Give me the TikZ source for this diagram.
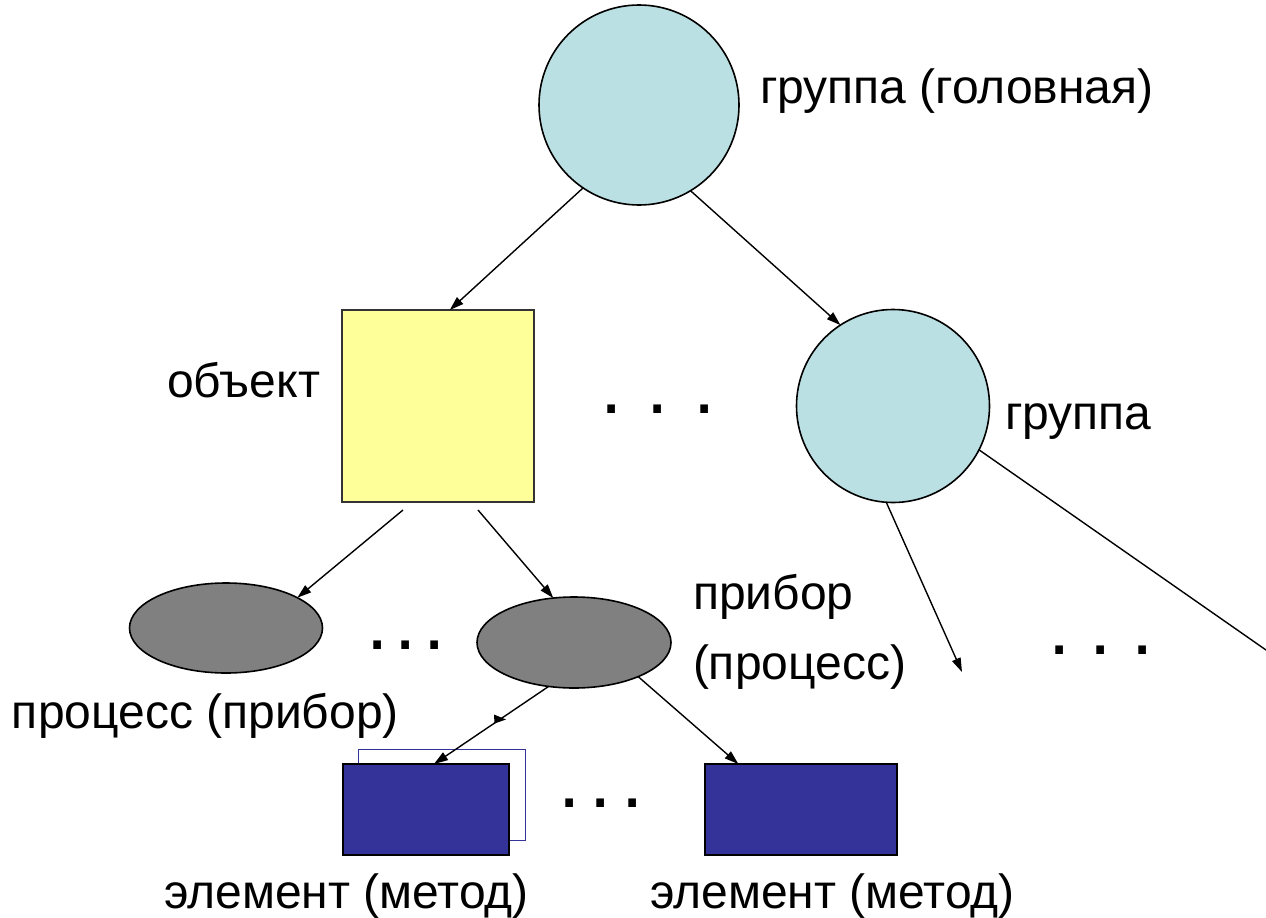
\documentclass[tikz,border=0pt]{standalone}
\usepackage{fontspec}
\setmainfont{Liberation Sans}
\usetikzlibrary{arrows.meta,shapes.geometric,calc}
\definecolor{cyanfill}{RGB}{187,224,227}
\definecolor{yelfill}{RGB}{255,255,153}
\definecolor{grayfill}{RGB}{128,128,128}
\definecolor{navyfill}{RGB}{51,51,153}
\newcommand{\dts}[2]{{\fontsize{#1}{#1}\selectfont .\hspace{#2}.\hspace{#2}.}}
\begin{document}
\begin{tikzpicture}[x=1pt,y=-1pt,
  every node/.style={inner sep=0pt,outer sep=0pt},
  grpnode/.style={circle,draw=black,line width=1.6pt,fill=cyanfill},
  objnode/.style={rectangle,draw=black!80,line width=1.6pt,fill=yelfill},
  devnode/.style={ellipse,draw=black,line width=1.6pt,fill=grayfill},
  elnode/.style={rectangle,draw=black,line width=1.6pt,fill=navyfill},
  lbl/.style={font=\fontsize{48}{56}\selectfont},
  dotlbl/.style={anchor=base},
  conn/.style={line width=1.4pt,-{Triangle[length=14pt,width=9pt]}},
  plainconn/.style={line width=1.4pt}]
\useasboundingbox (0,0) rectangle (1266,918);
% nodes
\node[grpnode,minimum size=200pt] (g1) at (639,105) {};
\node[grpnode,minimum size=193pt] (g2) at (893,406) {};
\node[objnode,minimum width=192pt,minimum height=192pt] (obj) at (438,406) {};
\node[devnode,minimum width=193pt,minimum height=90pt] (e1) at (226,628) {};
\node[devnode,minimum width=194pt,minimum height=91pt] (e2) at (574,642.5) {};
\draw[navyfill,line width=1pt] (358,749) rectangle (525,840);
\node[elnode,minimum width=166pt,minimum height=91pt] (b1) at (426,809.5) {};
\node[elnode,minimum width=192pt,minimum height=91pt] (b2) at (801,809.5) {};
% free ends
\coordinate (free1) at (962,672);
\coordinate (free2) at (1266,650);
% connectors
\draw[conn] (g1.236.6) -- (obj.83);
\draw[conn] (g1.301) -- (g2.123);
\draw[conn] ([xshift=-35pt,yshift=-8pt]obj.south) -- (e1.23);
\draw[conn] ([xshift=40pt,yshift=-8pt]obj.south) -- (e2.115);
\draw[conn] (e2.240) -- (b1.80);
\draw[conn] (e2.332) -- (b2.144);
\draw[conn] (g2.266) -- (free1);
\draw[plainconn] (g2.333.7) -- (free2);
\fill (494,714.5) -- (494.5,723.5) -- (506,719.5) -- cycle;
% labels
\node[lbl,anchor=base west] (lg1) at (760,103) {группа (головная)};
\node[lbl,anchor=base east] (lobj) at (320,397) {объект};
\node[lbl,anchor=base west] (lg2) at (1005,429) {группа};
\node[lbl,anchor=base west] (le2a) at (693,609) {прибор};
\node[lbl,anchor=base west] (le2b) at (693,679) {(процесс)};
\node[lbl,anchor=base west] (le1) at (12,728) {процесс (прибор)};
\node[lbl,anchor=base west] (lb1) at (164,908) {элемент (метод)};
\node[lbl,anchor=base west] (lb2) at (650,908) {элемент (метод)};
\node[dotlbl] (d1) at (658,413) {\dts{80}{24.5pt}};
\node[dotlbl] (d2) at (406,649) {\dts{80}{6pt}};
\node[dotlbl] (d3) at (601,807) {\dts{80}{9.5pt}};
\node[dotlbl] (d4) at (1101,654) {\dts{80}{19pt}};
\end{tikzpicture}
\end{document}
